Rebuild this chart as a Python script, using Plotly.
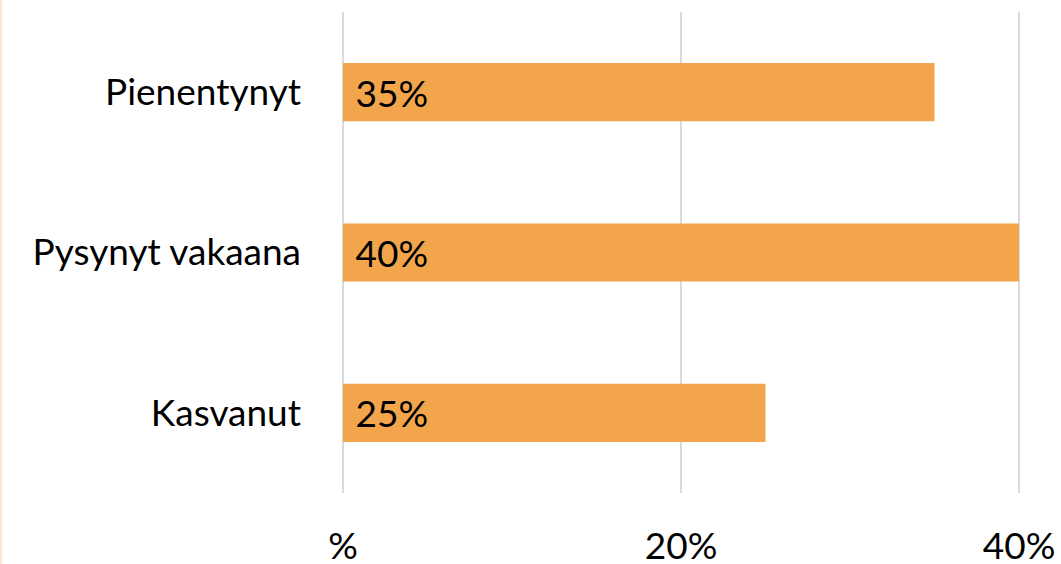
import plotly.graph_objects as go

categories = ["Kasvanut", "Pysynyt vakaana", "Pienentynyt"]
values = [25, 40, 35]
labels = [f"{v}%" for v in values]
tick_vals = [0, 20, 40]
tick_text = ["%", "20%", "40%"]

font_family = "Lato, 'Open Sans', sans-serif"
FS = 37

fig = go.Figure(
    go.Bar(
        x=values,
        y=categories,
        orientation="h",
        width=0.3625,
        text=labels,
        marker=dict(color="#F2A54A", line=dict(width=0)),
        texttemplate="\u00a0%{text}",
        textposition="inside",
        insidetextanchor="start",
        textfont=dict(family=font_family, size=FS, color="black"),
        constraintext="none",
        hoverinfo="skip",
    )
)

fig.update_layout(
    width=1061,
    height=564,
    margin=dict(l=342, r=41, t=12, b=71, autoexpand=False),
    paper_bgcolor="white",
    plot_bgcolor="white",
    showlegend=False,
    font=dict(family=font_family, size=FS, color="black"),
    xaxis=dict(
        range=[-0.06, 40.06],
        tickvals=tick_vals,
        ticktext=tick_text,
        showgrid=True,
        gridcolor="#DADADA",
        gridwidth=2,
        zeroline=False,
        showline=False,
        ticks="",
        automargin=False,
        ticklabelstandoff=28,
        tickfont=dict(family=font_family, size=FS, color="black"),
        fixedrange=True,
    ),
    yaxis=dict(
        showgrid=False,
        zeroline=False,
        showline=False,
        ticks="",
        automargin=False,
        ticklabelstandoff=40,
        tickfont=dict(family=font_family, size=FS, color="black"),
        fixedrange=True,
    ),
    shapes=[
        dict(
            type="line",
            xref="paper",
            yref="paper",
            x0=-341 / 678,
            x1=-341 / 678,
            y0=-71 / 481,
            y1=1 + 12 / 481,
            line=dict(color="#FCE4C8", width=2),
        )
    ],
)

fig.write_html(
    "out.html",
    config={"displayModeBar": False},
    post_script="document.body.style.margin='0';document.body.style.overflow='hidden';",
)
